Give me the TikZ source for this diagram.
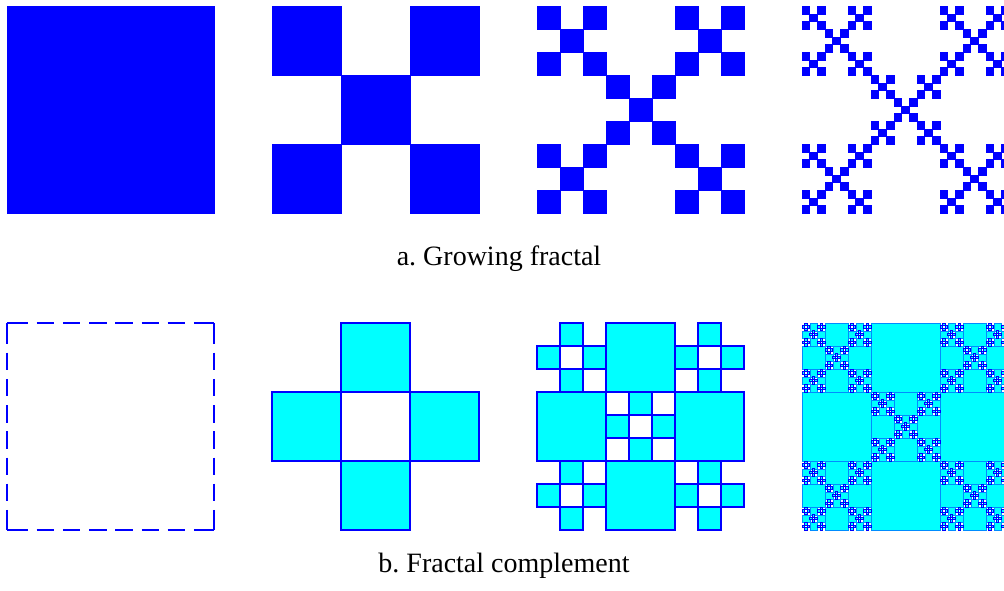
\documentclass[tikz,border=0pt]{standalone}
\usepackage{fontspec}
\setmainfont{Liberation Serif}
\frenchspacing
\definecolor{pblue}{RGB}{0,0,255}
\definecolor{pcyan}{RGB}{0,255,255}
\tikzset{
  vfill/.style={fill=pblue, draw=pblue, line width=0.4pt},
  cfill/.style={fill=pcyan, draw=pblue, line width=0.6pt},
  cfilldeep/.style={cfill},
  dashside/.style={draw=pblue, line width=0.6pt,
    dash pattern=on 10.5pt off 4.35pt on 8.75pt off 4.35pt on 8.75pt off 4.35pt on 8.75pt off 4.35pt on 8.75pt off 4.35pt on 8.75pt off 4.35pt on 8.75pt off 4.35pt on 10pt off 20pt},
  figcaption/.style={font=\fontsize{14}{17}\selectfont, anchor=base, inner sep=0pt}
}
% growing fractal: level, x, y, size
\newcommand\vicA[4]{%
  \ifnum#1=0
    \filldraw[vfill] (#2,#3) rectangle ++(#4,#4);
  \else
    \pgfmathsetmacro\vsA{#4/3}%
    \pgfmathtruncatemacro\vlA{#1-1}%
    \foreach \i/\j in {0/0,2/0,1/1,0/2,2/2}{%
      \pgfmathsetmacro\vxA{#2+\i*\vsA}%
      \pgfmathsetmacro\vyA{#3+\j*\vsA}%
      \edef\vnextA{\noexpand\vicA{\vlA}{\vxA}{\vyA}{\vsA}}%
      \vnextA
    }%
  \fi}
% complement: level, x, y, size
\newcommand\vicB[4]{%
  \ifnum#1>0
    \pgfmathsetmacro\vsB{#4/3}%
    \pgfmathtruncatemacro\vlB{#1-1}%
    \ifnum#1=1 \def\vstB{cfilldeep}\else\def\vstB{cfill}\fi
    \foreach \i/\j in {1/0,0/1,2/1,1/2}{%
      \filldraw[style=\vstB] ({#2+\i*\vsB},{#3+\j*\vsB}) rectangle ++(\vsB,\vsB);
    }%
    \foreach \i/\j in {0/0,2/0,1/1,0/2,2/2}{%
      \pgfmathsetmacro\vxB{#2+\i*\vsB}%
      \pgfmathsetmacro\vyB{#3+\j*\vsB}%
      \edef\vnextB{\noexpand\vicB{\vlB}{\vxB}{\vyB}{\vsB}}%
      \vnextB
    }%
  \fi}
\begin{document}
\begin{tikzpicture}[x=0.5pt,y=-0.5pt]
\useasboundingbox (0,0) rectangle (1004,590);
\clip (0,0) rectangle (1004,590);
% row a
\vicA{0}{7}{6.3}{207}
\vicA{1}{272}{6.3}{207}
\vicA{2}{537}{6.3}{207}
\vicA{3}{802}{6.3}{207}
\node[figcaption] (capA) at (499,265.7) {a. Growing fractal};
% row b
\coordinate (q1) at (7,323);
\coordinate (q2) at (214,323);
\coordinate (q3) at (214,530);
\coordinate (q4) at (7,530);
\draw[dashside] (q1) -- (q2);
\draw[dashside] (q1) -- (q4);
\draw[dashside] (q2) -- (q3);
\draw[dashside] (q4) -- (q3);
\vicB{1}{272}{323}{207}
\vicB{2}{537}{323}{207}
\begin{scope}[cfill/.style={fill=pcyan, draw=pblue!45!pcyan, line width=0.15pt},
              cfilldeep/.style={fill=pcyan, draw=pblue, line width=0.3pt}]
\vicB{4}{802}{323}{207}
\end{scope}
\node[figcaption] (capB) at (504,572.7) {b. Fractal complement};
\end{tikzpicture}
\end{document}
